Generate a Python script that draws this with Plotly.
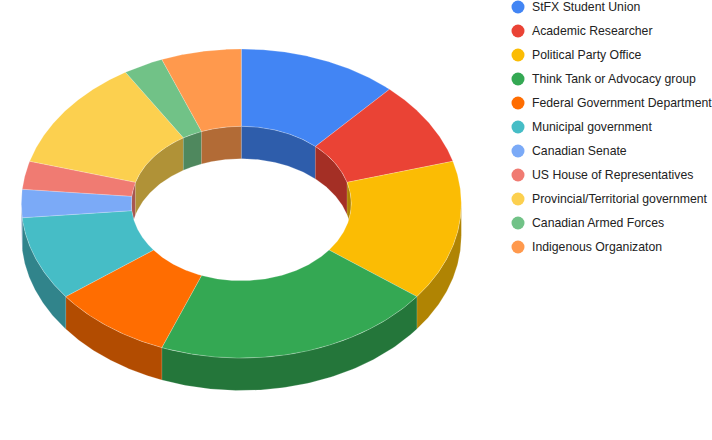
import numpy as np
import plotly.graph_objects as go

categories = ["StFX Student Union", "Academic Researcher", "Political Party Office",
              "Think Tank or Advocacy group", "Federal Government Department",
              "Municipal government", "Canadian Senate", "US House of Representatives",
              "Provincial/Territorial government", "Canadian Armed Forces",
              "Indigenous Organizaton"]
counts = [4, 3, 5, 7, 3, 3, 1, 1, 4, 1, 2]
colors = ["#4285F4", "#EA4335", "#FBBC04", "#34A853", "#FF6D01", "#46BDC6",
          "#7BAAF7", "#F07B72", "#FCD04F", "#71C287", "#FF994D"]

CX, CY, RX, RY, HOLE, DEPTH = 241.3, 203.5, 220.0, 154.5, 0.5, 32.5
LEGEND_X, LEGEND_TEXT_X, LEGEND_Y0, LEGEND_STEP = 518.0, 532.0, 7.0, 24.0
SEAM = "rgba(255,255,255,0.35)"


def px(t, k=1.0):
    return CX + RX * k * np.sin(t)


def py(t, k=1.0):
    return CY - RY * k * np.cos(t)


def darker(hex_color, f=0.7):
    r, g, b = (int(hex_color[i:i + 2], 16) for i in (1, 3, 5))
    return f"rgb({r * f:.0f},{g * f:.0f},{b * f:.0f})"


def clipped(a, b, lo, hi):
    a2, b2 = max(a, lo), min(b, hi)
    return (a2, b2) if b2 > a2 else None


fractions = np.array(counts, dtype=float) / sum(counts)
edges = np.concatenate([[0.0], np.cumsum(fractions)]) * 2 * np.pi


def poly(xs, ys, fill):
    return go.Scatter(x=xs, y=ys, mode="lines", fill="toself", fillcolor=fill,
                      line=dict(color=SEAM, width=0.6), hoverinfo="skip", showlegend=False)


fig = go.Figure()

# outer wall: front half of the ring
for i, c in enumerate(colors):
    seg = clipped(edges[i], edges[i + 1], np.pi / 2, 3 * np.pi / 2)
    if seg:
        t = np.linspace(seg[0], seg[1], 80)
        x = np.concatenate([px(t), px(t[::-1])])
        y = np.concatenate([py(t), py(t[::-1]) + DEPTH])
        fig.add_trace(poly(x, y, darker(c)))

# inner wall: back half of the hole, cut off where it meets the hole's front rim
for i, c in enumerate(colors):
    for lo, hi in ((0, np.pi / 2), (3 * np.pi / 2, 2 * np.pi)):
        seg = clipped(edges[i], edges[i + 1], lo, hi)
        if seg:
            t = np.linspace(seg[0], seg[1], 60)
            top = py(t, HOLE)
            low = np.minimum(top + DEPTH, CY + RY * HOLE * np.cos(t))
            x = np.concatenate([px(t, HOLE), px(t[::-1], HOLE)])
            y = np.concatenate([top, low[::-1]])
            fig.add_trace(poly(x, y, darker(c)))

# top surface
for i, c in enumerate(colors):
    t = np.linspace(edges[i], edges[i + 1], 120)
    x = np.concatenate([px(t), px(t[::-1], HOLE), px(t[:1])])
    y = np.concatenate([py(t), py(t[::-1], HOLE), py(t[:1])])
    fig.add_trace(poly(x, y, c))

# legend rows
rows = np.arange(len(categories))
row_y = LEGEND_Y0 + rows * LEGEND_STEP
fig.add_trace(go.Scatter(
    x=np.full(len(rows), LEGEND_X), y=row_y, mode="markers",
    marker=dict(color=colors, size=13, symbol="circle"), cliponaxis=False,
    hoverinfo="skip", showlegend=False))
for name, yy in zip(categories, row_y):
    fig.add_annotation(x=LEGEND_TEXT_X, y=yy, xref="x", yref="y", text=name, showarrow=False,
                       xanchor="left", yanchor="middle", borderpad=0, borderwidth=0,
                       font=dict(family="Liberation Sans, Arial, sans-serif", size=12.25,
                                 color="#222222"))

fig.update_layout(
    width=712, height=440, margin=dict(l=0, r=0, t=0, b=0),
    paper_bgcolor="white", plot_bgcolor="white", showlegend=False,
    font=dict(family="Liberation Sans, Arial, sans-serif", size=12, color="#222222"),
    xaxis=dict(range=[0, 712], visible=False, fixedrange=True),
    yaxis=dict(range=[440, 0], visible=False, fixedrange=True),
)
fig.write_html("out.html", config=dict(displayModeBar=False),
               post_script="document.body.style.margin='0';document.documentElement.style.overflow='hidden';")
